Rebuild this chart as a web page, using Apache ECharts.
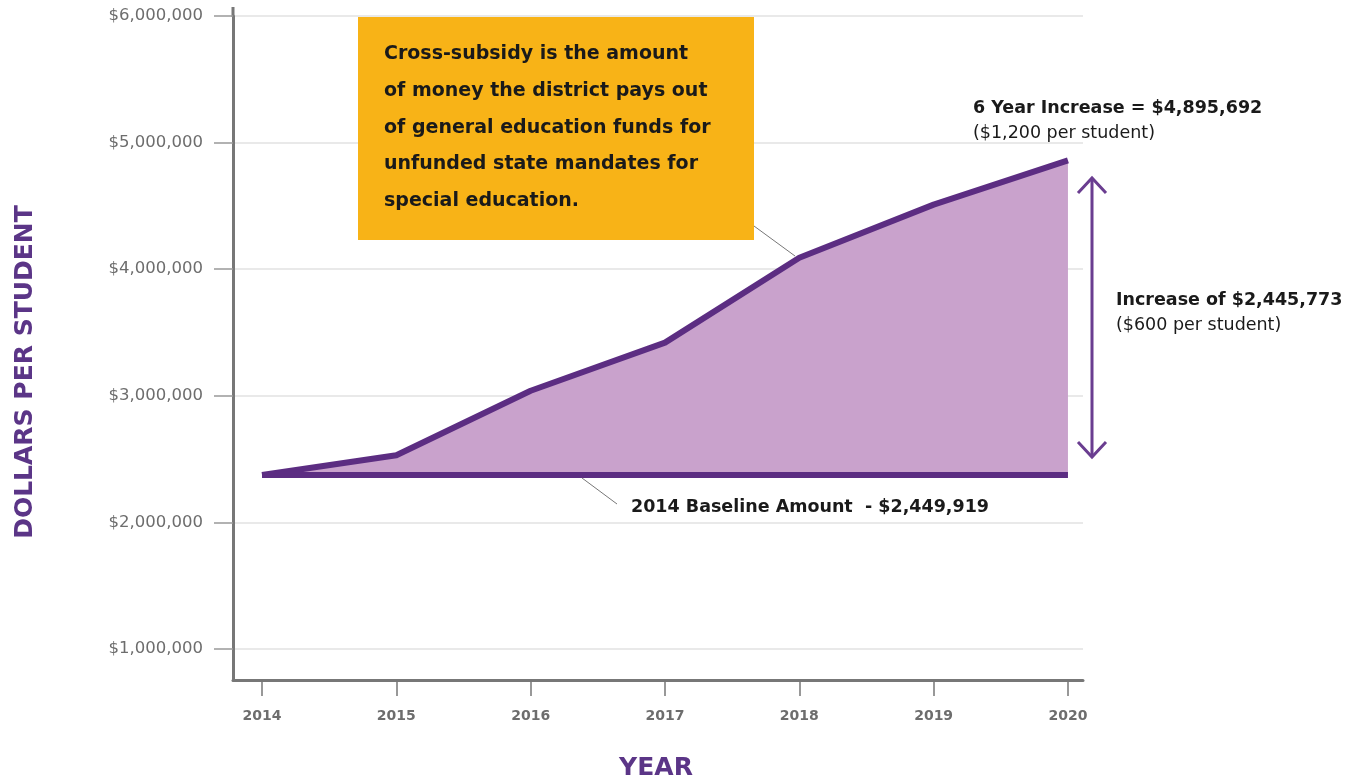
<!DOCTYPE html>
<html><head><meta charset="utf-8">
<script src="https://cdn.jsdelivr.net/npm/echarts@6/dist/echarts.min.js"></script>
<style>html,body{margin:0;padding:0;background:#fff}#c{width:1358px;height:781px}</style>
</head><body><div id="c"></div>
<script>
const years = [2014, 2015, 2016, 2017, 2018, 2019, 2020];
const totals = [2374000, 2530000, 3040000, 3420000, 4090000, 4510000, 4860000];
const baseline = 2374000;
const yTicks = [1000000, 2000000, 3000000, 4000000, 5000000, 6000000];
const noteLines = [
  'Cross-subsidy is the amount',
  'of money the district pays out',
  'of general education funds for',
  'unfunded state mandates for',
  'special education.'
];
const topTitle = '6 Year Increase = $4,895,692';
const topSub = '($1,200 per student)';
const incTitle = 'Increase of $2,445,773';
const incSub = '($600 per student)';
const baseLabel = '2014 Baseline Amount  - $2,449,919';
const yName = 'DOLLARS PER STUDENT';
const xName = 'YEAR';

const PURPLE = '#5c2d82';
const AREA = '#c9a2cc';
const AXIS = '#777777';
const TEXTF = '"DejaVu Sans", "Noto Sans", sans-serif';

const chart = echarts.init(document.getElementById('c'));

const graphics = [];
graphics.push({type:'rect', shape:{x:358, y:17, width:396, height:223}, style:{fill:'#f8b317'}, z:10});
noteLines.forEach((t,i)=>{
  graphics.push({type:'text', x:384, y:54 + i*36.8, z:11, style:{text:t, fill:'#1a1a1a', font:'bold 19px ' + TEXTF, verticalAlign:'middle', align:'left'}});
});
graphics.push({type:'line', shape:{x1:754, y1:226, x2:795, y2:256}, style:{stroke:'#777', lineWidth:1}, z:9});
graphics.push({type:'line', shape:{x1:582, y1:478, x2:617, y2:504}, style:{stroke:'#777', lineWidth:1}, z:9});
graphics.push({type:'line', shape:{x1:233, y1:7, x2:233, y2:17}, style:{stroke:AXIS, lineWidth:3}});
graphics.push({type:'text', x:631, y:507, style:{text:baseLabel, fill:'#1a1a1a', font:'bold 17.5px ' + TEXTF, verticalAlign:'middle'}});
graphics.push({type:'text', x:973, y:108, style:{text:topTitle, fill:'#1a1a1a', font:'bold 17.5px ' + TEXTF, verticalAlign:'middle'}});
graphics.push({type:'text', x:973, y:133, style:{text:topSub, fill:'#1a1a1a', font:'17.5px ' + TEXTF, verticalAlign:'middle'}});
graphics.push({type:'text', x:1116, y:300, style:{text:incTitle, fill:'#1a1a1a', font:'bold 17.5px ' + TEXTF, verticalAlign:'middle'}});
graphics.push({type:'text', x:1116, y:325, style:{text:incSub, fill:'#1a1a1a', font:'17.5px ' + TEXTF, verticalAlign:'middle'}});
// double arrow
graphics.push({type:'line', shape:{x1:1092, y1:178, x2:1092, y2:457}, style:{stroke:'#6a3d90', lineWidth:3}});
graphics.push({type:'polyline', shape:{points:[[1078,193],[1092,178],[1106,193]]}, style:{stroke:'#6a3d90', lineWidth:3, fill:null}});
graphics.push({type:'polyline', shape:{points:[[1078,442],[1092,457],[1106,442]]}, style:{stroke:'#6a3d90', lineWidth:3, fill:null}});
// axis titles
graphics.push({type:'text', x:25, y:372, rotation:Math.PI/2, style:{text:yName, fill:'#5b3587', font:'bold 25px ' + TEXTF, align:'center', verticalAlign:'middle'}});
graphics.push({type:'text', x:656, y:768, style:{text:xName, fill:'#5b3587', font:'bold 25px ' + TEXTF, align:'center', verticalAlign:'middle'}});

const option = {
  animation: false,
  grid: {left:233, right:275, top:16, bottom:101, containLabel:false},
  xAxis: {
    type:'value', min:2013.784, max:2020.112,
    axisLine:{show:true, lineStyle:{color:AXIS, width:3}},
    axisTick:{show:true, length:16, lineStyle:{color:AXIS, width:1.5}, customValues:years},
    axisLabel:{customValues:years, margin:29, color:'#6d6d6d', fontSize:14, fontWeight:'bold', fontFamily:'"DejaVu Sans", sans-serif', formatter:v=>String(v)},
    splitLine:{show:false}
  },
  yAxis: {
    type:'value', min:755000, max:6000000,
    axisLine:{show:true, lineStyle:{color:AXIS, width:3}},
    axisTick:{show:true, length:19, lineStyle:{color:'#999', width:1.5}, customValues:yTicks},
    axisLabel:{customValues:yTicks, margin:30, color:'#6d6d6d', fontSize:16.5, fontFamily:'"DejaVu Sans", sans-serif',
      formatter:v=>'$' + Number(v).toLocaleString('en-US')},
    splitLine:{show:true, lineStyle:{color:'#e2e2e2', width:1.5}}
  },
  series: [
    {
      type:'line', name:'Total',
      data: years.map((y,i)=>[y, totals[i]]),
      symbol:'none',
      lineStyle:{color:PURPLE, width:6, join:'round'},
      areaStyle:{origin:baseline, color:AREA, opacity:1},
      z:3
    },
    {
      type:'line', name:'Baseline',
      data: [[years[0], baseline],[years[years.length-1], baseline]],
      symbol:'none',
      lineStyle:{color:PURPLE, width:6},
      z:4
    }
  ],
  graphic: graphics
};
chart.setOption(option);
</script>
</body></html>
